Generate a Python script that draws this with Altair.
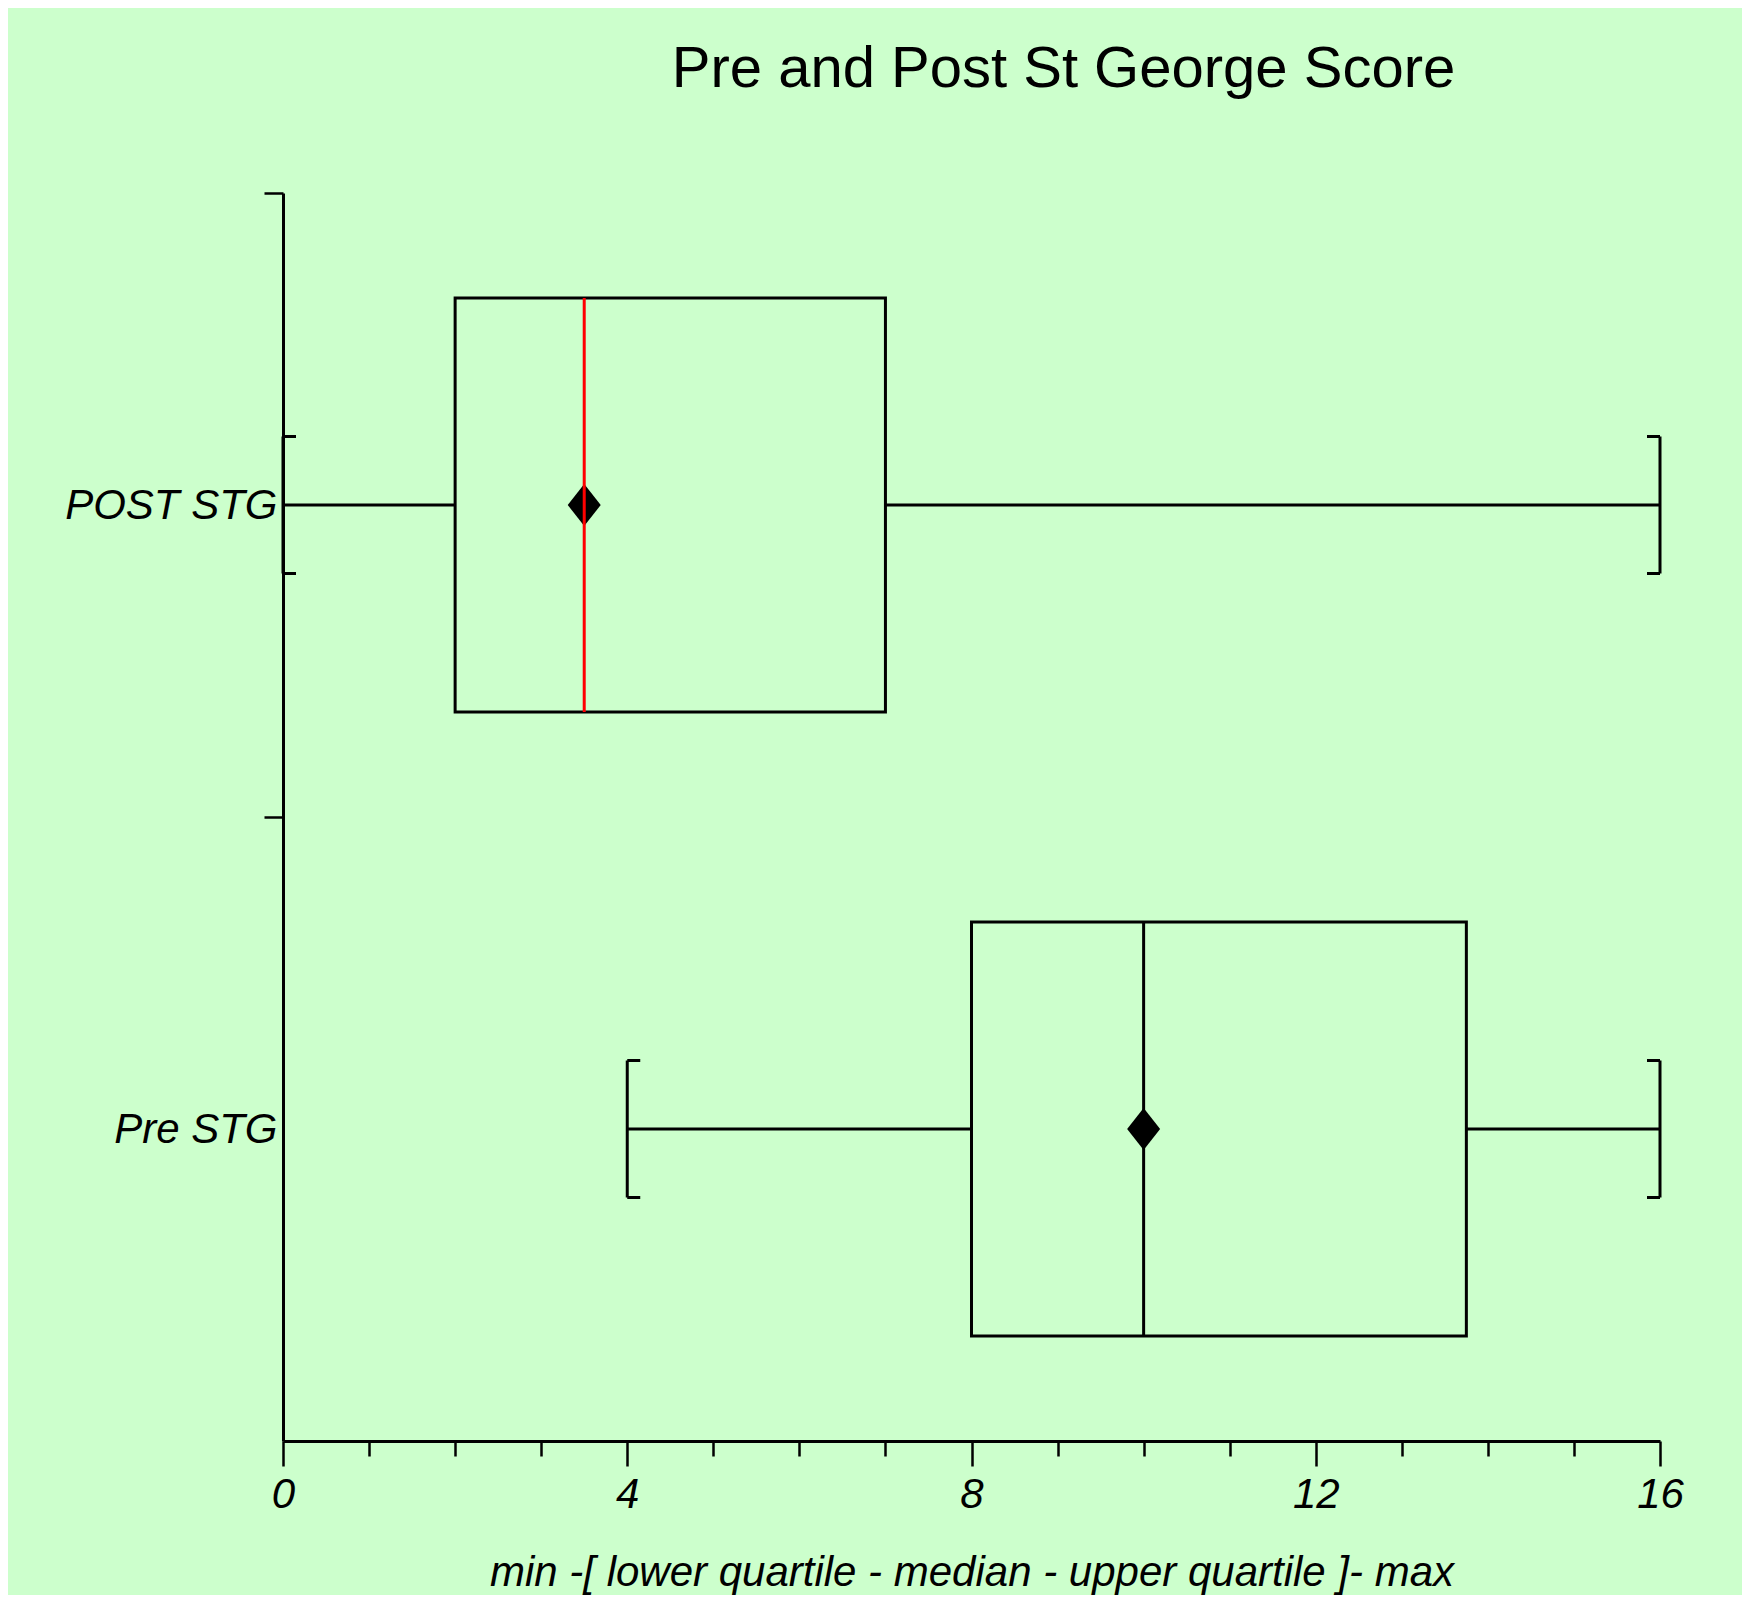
import altair as alt
import pandas as pd

# ---- data ----
groups = ["POST STG", "Pre STG"]
group_pos = [1.5, 0.5]
mins = [0, 4]
lower_q = [2, 8]
medians = [3.5, 10]
upper_q = [7, 13.75]
maxs = [16, 16]
means = [3.5, 10]
median_colors = ["#FF0000", "#000000"]

major_ticks = [0, 4, 8, 12, 16]
all_ticks = list(range(0, 17))
group_ticks = [1, 2]

df = pd.DataFrame(dict(group=groups, pos=group_pos, lo=mins, q1=lower_q, med=medians,
                       q3=upper_q, hi=maxs, mean=means, mcol=median_colors))

BG = "#CCFFCC"
FONT = "Liberation Sans"
LW = 3
BOX_HALF = 207
CAP_HALF = 68.5
STUB = 13

xscale = alt.Scale(domain=[0, 16], nice=False, zero=False)
yscale = alt.Scale(domain=[0, 2], nice=False, zero=False)

major_test = " || ".join(f"datum.value == {v}" for v in major_ticks)
x_axis = alt.Axis(
    values=all_ticks,
    tickSize={"condition": {"test": major_test, "value": 25}, "value": 15},
    labelExpr=f"({major_test}) ? datum.label : ''",
    labelOverlap=False,
    labelFlush=False,
    labelPadding=8,
    title="min -[ lower quartile - median - upper quartile ]- max",
    titlePadding=37,
)

label_expr = ""
for g, p in zip(groups, group_pos):
    label_expr += f"datum.value == {p} ? '{g}' : "
label_expr += "''"
tick_test = " || ".join(f"datum.value == {v}" for v in group_ticks)
y_axis = alt.Axis(
    values=sorted(group_pos + group_ticks),
    labelExpr=label_expr,
    tickOpacity={"condition": {"test": tick_test, "value": 1}, "value": 0},
    tickSize=19,
    labelPadding=-13,
    labelOverlap=False,
    labelLimit=0,
    title=None,
)

base = alt.Chart(df)

def X(f):
    return alt.X(f"{f}:Q", scale=xscale, axis=x_axis)

def Y():
    return alt.Y("pos:Q", scale=yscale, axis=y_axis)

box = base.mark_rect(fillOpacity=0, stroke="black", strokeWidth=LW,
                     yOffset=-BOX_HALF, y2Offset=BOX_HALF).encode(
    x=X("q1"), x2="q3:Q", y=Y(), y2="pos:Q")

whisk_lo = base.mark_rule(color="black", strokeWidth=LW).encode(
    x=X("lo"), x2="q1:Q", y=Y())
whisk_hi = base.mark_rule(color="black", strokeWidth=LW).encode(
    x=X("q3"), x2="hi:Q", y=Y())

cap_lo = base.mark_rule(color="black", strokeWidth=LW, yOffset=-CAP_HALF, y2Offset=CAP_HALF).encode(
    x=X("lo"), y=Y(), y2="pos:Q")
cap_hi = base.mark_rule(color="black", strokeWidth=LW, yOffset=-CAP_HALF, y2Offset=CAP_HALF).encode(
    x=X("hi"), y=Y(), y2="pos:Q")

stubs = []
for fld, sgn in [("lo", 1), ("hi", -1)]:
    for off in [-CAP_HALF, CAP_HALF]:
        stubs.append(base.mark_rule(color="black", strokeWidth=LW, x2Offset=sgn * STUB,
                                    yOffset=off, y2Offset=off).encode(
            x=X(fld), x2=f"{fld}:Q", y=Y(), y2="pos:Q"))

mean_pt = base.mark_point(shape="M0,-1.27L1,0L0,1.27L-1,0Z", filled=True, fill="black",
                          size=1089, opacity=1, strokeWidth=0).encode(x=X("mean"), y=Y())

median = base.mark_rule(strokeWidth=LW, yOffset=-BOX_HALF, y2Offset=BOX_HALF).encode(
    x=X("med"), y=Y(), y2="pos:Q", color=alt.Color("mcol:N", scale=None))

chart = alt.layer(box, whisk_lo, whisk_hi, cap_lo, cap_hi, *stubs, mean_pt, median).properties(
    width=1377,
    height=1248,
    background=BG,
    padding={"left": 275, "top": 185, "right": 82, "bottom": 154},
    autosize=alt.AutoSizeParams(type="none"),
    title=alt.TitleParams(
        "Pre and Post St George Score",
        font=FONT, fontSize=58, fontWeight="normal", color="black",
        anchor="middle", dx=92, offset=73,
    ),
).configure_view(stroke=None).configure_axis(
    labelFont=FONT, labelFontSize=42, labelFontStyle="italic", labelColor="black",
    titleFont=FONT, titleFontSize=42, titleFontStyle="italic", titleFontWeight="normal", titleColor="black",
    domainColor="black", domainWidth=3, tickColor="black", tickWidth=2.5, grid=False,
)

chart.save("out.html", embed_options={"renderer": "svg", "actions": False})
